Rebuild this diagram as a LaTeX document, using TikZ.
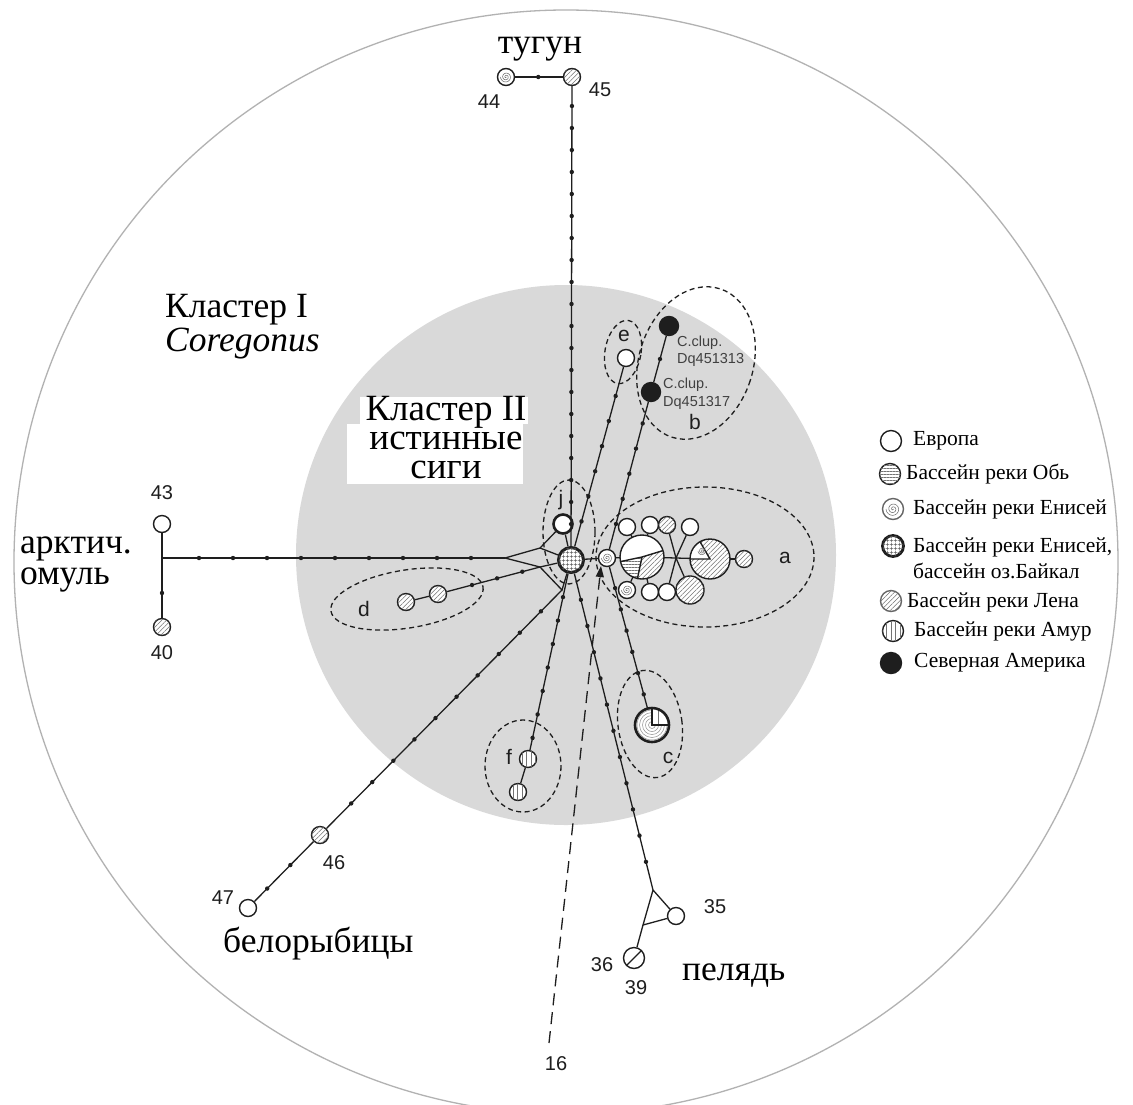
\documentclass[tikz,border=0pt]{standalone}
\usepackage{fontspec}
\setmainfont{Liberation Serif}
\newfontfamily\sansf{Liberation Sans}
\usetikzlibrary{patterns.meta,decorations.markings,arrows.meta}
\definecolor{greybg}{RGB}{217,217,217}
\definecolor{ink}{RGB}{30,30,30}
\newcommand{\myspiral}[3]{\draw[black!60, line width=0.5pt] plot[domain=0:900, samples=60, smooth, variable=\t] ({#1+#3*\t/900*cos(\t)}, {#2+#3*\t/900*sin(\t)});}
\begin{document}
\begin{tikzpicture}[x=1pt,y=-1pt,
  edge/.style={draw=ink, line width=1.3pt},
  mut/.style={postaction={decorate,decoration={markings,mark=between positions #1 and -6pt step #1 with {\fill[ink] (0,0) circle (2.2pt);}}}},
  hap/.style={circle,draw=ink,line width=1.4pt,fill=white,inner sep=0pt,minimum size=#1},
  hap/.default=17pt,
  ghost/.style={circle,inner sep=0pt,minimum size=#1},
  lena/.style={postaction={pattern={Lines[angle=45,distance=3.3pt,line width=0.5pt]},pattern color=black!55}},
  ob/.style={postaction={pattern={Lines[angle=0,distance=3pt,line width=0.5pt]},pattern color=black!55}},
  amur/.style={postaction={pattern={Lines[angle=90,distance=4.5pt,line width=0.5pt]},pattern color=black!55}},
  baik/.style={postaction={pattern={Hatch[angle=0,distance=4pt,line width=0.6pt]},pattern color=black!65}},
  grp/.style={draw=ink,line width=1.3pt,dash pattern=on 5pt off 3.5pt},
  lab/.style={font=\sansf\fontsize{20}{24}\selectfont,inner sep=0pt,text=ink},
  let/.style={font=\sansf\fontsize{21}{24}\selectfont,inner sep=0pt,text=ink},
  clup/.style={font=\sansf\fontsize{14.5}{17}\selectfont,inner sep=0pt,text=black!75,anchor=west},
  big/.style={font=\fontsize{35.5}{34}\selectfont,inner sep=0pt,anchor=base west},
  leg/.style={font=\fontsize{21.5}{24}\selectfont,inner sep=0pt,anchor=west},
]
\useasboundingbox (0,0) rectangle (1133,1104);
\fill[white] (0,0) rectangle (1133,1104);
\fill[greybg] (566,555) circle[radius=270];
\draw[black!30, line width=1.3pt] (566,562) circle[radius=552];
\fill[white] (360,397) rectangle (528,424);
\fill[white] (347,424) rectangle (523,484);

% group ellipses
\draw[grp] (569,532) ellipse[x radius=26,y radius=52];
\draw[grp] (705,557) ellipse[x radius=109,y radius=70];
\draw[grp,rotate around={-10:(623,352)}] (623,352) ellipse[x radius=18,y radius=32];
\draw[grp,rotate around={-18:(696,363)}] (696,363) ellipse[x radius=57,y radius=78];
\draw[grp,rotate around={8:(650,724)}] (650,724) ellipse[x radius=32,y radius=54];
\draw[grp] (523,766) ellipse[x radius=38,y radius=46];
\draw[grp,rotate around={9:(407,599)}] (407,599) ellipse[x radius=77,y radius=29];

% haplotype nodes
\node[hap,lena] (n45) at (572,77) {};
\node[hap] (n44) at (506,77) {};
\node[hap] (n43) at (162,524) {};
\node[hap,lena] (n40) at (162,627) {};
\node[hap=25pt,line width=3pt,baik] (C) at (571,560) {};
\node[hap=19pt,line width=2.6pt] (j) at (563,524) {};
\node[hap] (sp) at (607,558) {};
\node[hap] (e) at (626,358) {};
\node[hap=19pt,fill=ink] (b1) at (669,326) {};
\node[hap=19pt,fill=ink] (b2) at (651,392) {};
\node[ghost=44pt] (pie) at (642,557) {};
\node[ghost=40pt] (big2) at (710,559) {};
\node[hap,lena] (ar) at (744,559) {};
\node[hap] (t1) at (627,527) {};
\node[hap] (t2) at (650,525) {};
\node[hap,lena] (t3) at (667,525) {};
\node[hap] (t4) at (690,527) {};
\node[hap] (u1) at (627,590) {};
\node[hap] (u2) at (650,592) {};
\node[hap] (u3) at (667,592) {};
\node[hap=28pt,lena] (u4) at (690,590) {};
\node[ghost=34pt] (cn) at (652,725) {};
\node[hap,amur] (f1) at (528,759) {};
\node[hap,amur] (f2) at (518,792) {};
\node[hap,lena] (d1) at (406,602) {};
\node[hap,lena] (d2) at (438,594) {};
\node[hap,lena] (n46) at (320,835) {};
\node[hap] (n47) at (248,908) {};
\node[hap] (n35) at (676,916) {};
\node[hap=21pt] (n36) at (634,958) {};

% junctions
\coordinate (arcj) at (162,558);
\coordinate (Ja) at (505,558);
\coordinate (Jb) at (540,548);
\coordinate (Jc) at (540,567);
\coordinate (Jd) at (562,590);
\coordinate (ja) at (676,558);
\coordinate (p1) at (653,890);
\coordinate (p2) at (643,925);
\coordinate (s16) at (549,1043);
\coordinate (t16) at (601,566);

% connectors
\draw[edge,mut=22pt] (C) -- (n45);
\draw[edge,mut=24.5pt] (n45) -- (n44);
\draw[edge,mut=34pt] (Ja) -- (arcj);
\draw[edge] (arcj) -- (n43);
\draw[edge,mut=35pt] (arcj) -- (n40);
\draw[edge] (Ja) -- (Jb) -- (j);
\draw[edge] (Ja) -- (Jc) -- (C);
\draw[edge] (Jb) -- (C);
\draw[edge] (Jc) -- (Jd) -- (C);
\draw[edge] (j) -- (C);
\draw[edge,mut=26pt] (C) -- (e);
\draw[edge,mut=26pt] (sp) -- (b2);
\draw[edge,mut=24pt] (b2) -- (b1);
\draw[edge] (C) -- (sp);
\draw[edge] (sp) -- (pie);
\draw[edge,mut=22pt] (sp) -- (cn);
\draw[edge] (pie) -- (big2);
\draw[edge] (big2) -- (ar);
\draw[edge] (pie) -- (t1);
\draw[edge] (pie) -- (t2);
\draw[edge] (pie) -- (u1);
\draw[edge] (pie) -- (u2);
\draw[edge] (ja) -- (t3);
\draw[edge] (ja) -- (t4);
\draw[edge] (ja) -- (u3);
\draw[edge] (ja) -- (u4);
\draw[edge,mut=26pt] (d2) -- (Jc);
\draw[edge] (d1) -- (d2);
\draw[edge,mut=30pt] (Jd) -- (n46);
\draw[edge,mut=33pt] (n46) -- (n47);
\draw[edge,mut=24pt] (C) -- (f1);
\draw[edge] (f1) -- (f2);
\draw[edge,mut=27pt] (C) -- (p1);
\draw[edge] (p1) -- (n35) -- (p2) -- (p1);
\draw[edge] (p2) -- (n36);
\draw[edge,dash pattern=on 12pt off 7pt,-{Triangle[length=11pt,width=8pt]}] (s16) -- (t16);

% pie of cluster a
\begin{scope}[shift={(642,557)},x=1pt,y=1pt]
  \fill[white] (0,0) circle (22);
  \path[pattern={Lines[angle=0,distance=3pt,line width=0.5pt]},pattern color=black!55] (0,0) -- (192:22) arc[start angle=192,end angle=258,radius=22] -- cycle;
  \path[pattern={Lines[angle=45,distance=3.3pt,line width=0.5pt]},pattern color=black!55] (0,0) -- (258:22) arc[start angle=258,end angle=377,radius=22] -- cycle;
  \draw[ink,line width=1.4pt] (17:22) -- (0,0) -- (192:22) (0,0) -- (258:22);
  \draw[ink,line width=1.4pt] (0,0) circle (22);
\end{scope}
\begin{scope}[shift={(710,559)},x=1pt,y=1pt]
  \fill[white] (0,0) circle (20);
  \path[pattern={Lines[angle=45,distance=3.3pt,line width=0.5pt]},pattern color=black!55] (0,0) -- (180:20) arc[start angle=180,end angle=480,radius=20] -- cycle;
  \draw[ink,line width=1.4pt] (120:20) -- (0,0) -- (180:20);
  \draw[ink,line width=1.4pt] (0,0) circle (20);
\end{scope}
\myspiral{702}{551}{4}
% node c
\begin{scope}[shift={(652,725)},x=1pt,y=1pt]
  \fill[white] (0,0) circle (17);
  \foreach \r in {3.5,6.5,9.5,12.5,15} \draw[black!45,line width=0.5pt] (0,0) circle (\r);
  \fill[white] (0,0) -- (17,0) arc[start angle=0,end angle=90,radius=17] -- cycle;
  \draw[black!55,line width=0.6pt] (6,0) -- (6,15.9);
  \draw[ink,line width=2.6pt] (0,17) -- (0,0) -- (17,0);
  \draw[ink,line width=2.6pt] (0,0) circle (17);
\end{scope}
\myspiral{506}{77}{5.5}
\myspiral{607}{558}{5.5}
\myspiral{627}{590}{5.5}
\draw[ink,line width=1.2pt,shorten >=1pt,shorten <=1pt] (n36.225) -- (n36.45);

% numbers and group letters
\node[lab] (l44) at (489,102) {44};
\node[lab] (l45) at (600,90) {45};
\node[lab] (l43) at (162,493) {43};
\node[lab] (l40) at (162,653) {40};
\node[lab] (l46) at (334,863) {46};
\node[lab] (l47) at (223,898) {47};
\node[lab] (l35) at (715,907) {35};
\node[lab] (l36) at (602,965) {36};
\node[lab] (l39) at (636,988) {39};
\node[lab] (l16) at (556,1064) {16};
\node[let] (la) at (785,558) {a};
\node[let] (lb) at (695,422) {b};
\node[let] (lc) at (668,758) {c};
\node[let] (ld) at (364,609) {d};
\node[let] (le) at (624,336) {e};
\node[let] (lf) at (509,757) {f};
\node[let] (lj) at (561,500) {j};
\node[clup] (c1a) at (677,343) {C.clup.};
\node[clup] (c1b) at (677,360) {Dq451313};
\node[clup] (c2a) at (663,385) {C.clup.};
\node[clup] (c2b) at (663,403) {Dq451317};

% big labels
\node[big,anchor=base] (tug) at (540,53) {тугун};
\node[big,align=left,anchor=north west] (k1) at (165,294.5) {Кластер I\\\itshape Coregonus};
\node[big,font=\fontsize{37}{29}\selectfont,align=center,anchor=north] (k2) at (446,396) {Кластер II\\истинные\\сиги};
\node[big,align=left,anchor=north west] (ark) at (20,537) {арктич.\\[-3pt]омуль};
\node[big] (bel) at (223,952) {белорыбицы};
\node[big] (pel) at (682,980) {пелядь};

% legend
\node[hap=21pt] (L1) at (891,441) {};
\node[hap=21pt,ob] (L2) at (890,474) {};
\node[hap=21pt,draw=black!60] (L3) at (893,509) {};
\myspiral{893}{509}{7}
\node[hap=21pt,line width=2.8pt,baik] (L4) at (893,546) {};
\node[hap=21pt,draw=black!60,lena] (L5) at (891,601) {};
\node[hap=21pt,amur] (L6) at (893,631) {};
\node[hap=21pt,fill=ink] (L7) at (891,663) {};
\node[leg] (T1) at (913,441) {Европа};
\node[leg] (T2) at (906,474) {Бассейн реки Обь};
\node[leg] (T3) at (913,509) {Бассейн реки Енисей};
\node[leg,align=left,anchor=north west,font=\fontsize{21.5}{26}\selectfont] (T4) at (913,538) {Бассейн реки Енисей,\\бассейн оз.Байкал};
\node[leg] (T5) at (907,602) {Бассейн реки Лена};
\node[leg] (T6) at (914,631) {Бассейн реки Амур};
\node[leg] (T7) at (914,663) {Северная Америка};
\end{tikzpicture}
\end{document}
